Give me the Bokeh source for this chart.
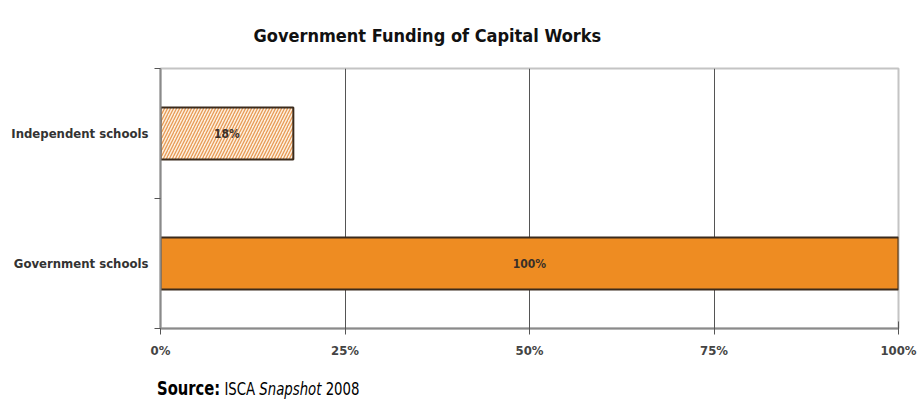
from bokeh.plotting import figure
from bokeh.models import FixedTicker, Range1d, ColumnDataSource, Title, Div
from bokeh.layouts import column
from bokeh.core.properties import value
from bokeh.embed import file_html
from bokeh.resources import INLINE

categories = ["Government schools", "Independent schools"]
funding_pct = [100, 18]
x_ticks = [0, 25, 50, 75, 100]
x_tick_labels = ["0%", "25%", "50%", "75%", "100%"]
title_text = "Government Funding of Capital Works"
source_html = ("<span style='display:inline-block;transform:scaleX(0.82);"
               "transform-origin:left center;white-space:nowrap'>"
               "<b style='font-size:20px'>Source:</b> ISCA <i>Snapshot</i> 2008</span>")

FONT = "'DejaVu Sans Condensed', 'Liberation Sans Narrow', 'Open Sans'"

ypos = [i + 0.5 for i in range(len(categories))]
src = ColumnDataSource(dict(
    y=ypos, right=funding_pct, mid=[v / 2 for v in funding_pct],
    txt=[f"{v}%" for v in funding_pct],
    fill=["#ee8c22", "#fdf0e0"],
    hatch=[" ", "right_diagonal_line"],
))

p = figure(width=918, height=368, output_backend="svg", toolbar_location=None,
           x_range=Range1d(0, 100), y_range=Range1d(0, len(categories)),
           min_border_left=160, min_border_right=20, min_border_top=68,
           min_border_bottom=40)

p.add_layout(Title(text=title_text, align="left", offset=93, standoff=45,
                   text_font=FONT, text_font_style="bold", text_font_size="18px",
                   text_color="#111111"), "above")

p.hbar(y="y", right="right", left=0, height=0.4, source=src,
       fill_color="fill", line_color="#3b2b1c", line_width=2,
       hatch_pattern="hatch", hatch_color="#e89a55", hatch_scale=6, hatch_weight=1.3)
p.text(x="mid", y="y", text="txt", source=src, text_align="center",
       text_baseline="middle", text_font=value(FONT), text_font_style="bold",
       text_font_size="12px", text_color="#3a3028")

# axes
p.xaxis.ticker = FixedTicker(ticks=x_ticks)
p.xaxis.major_label_overrides = {t: l for t, l in zip(x_ticks, x_tick_labels)}
p.xaxis.axis_line_color = "#8a8a8a"
p.xaxis.axis_line_width = 2
p.xaxis.major_tick_line_color = "#555555"
p.xaxis.major_tick_in = 7
p.xaxis.major_tick_out = 6
p.xaxis.minor_tick_line_color = None
p.xaxis.major_label_standoff = 8
p.xaxis.major_label_text_font = FONT
p.xaxis.major_label_text_font_style = "bold"
p.xaxis.major_label_text_font_size = "13px"
p.xaxis.major_label_text_color = "#444444"

p.yaxis.ticker = FixedTicker(ticks=ypos, minor_ticks=[0, 1, 2])
p.yaxis.major_label_overrides = {y: c for y, c in zip(ypos, categories)}
p.yaxis.axis_line_color = "#8a8a8a"
p.yaxis.axis_line_width = 2
p.yaxis.major_tick_line_color = None
p.yaxis.minor_tick_line_color = "#555555"
p.yaxis.minor_tick_in = 0
p.yaxis.minor_tick_out = 6
p.yaxis.major_label_standoff = 6
p.yaxis.major_label_text_font = FONT
p.yaxis.major_label_text_font_style = "bold"
p.yaxis.major_label_text_font_size = "13px"
p.yaxis.major_label_text_color = "#333333"

p.xgrid.ticker = FixedTicker(ticks=[25, 50, 75])
p.xgrid.grid_line_color = "#555555"
p.xgrid.grid_line_width = 1
p.ygrid.grid_line_color = None
p.outline_line_color = "#c4c4c4"
p.outline_line_width = 2

div = Div(text=source_html, width=918, height=46, margin=(0, 0, 0, 0),
          styles={"font-family": FONT, "font-size": "18px", "color": "#000000",
                  "padding-left": "157px", "padding-top": "8px",
                  "box-sizing": "border-box", "line-height": "24px"})

layout = column(p, div, spacing=0, margin=(0, 0, 0, 0))
open("out.html", "w").write(file_html(layout, INLINE))
